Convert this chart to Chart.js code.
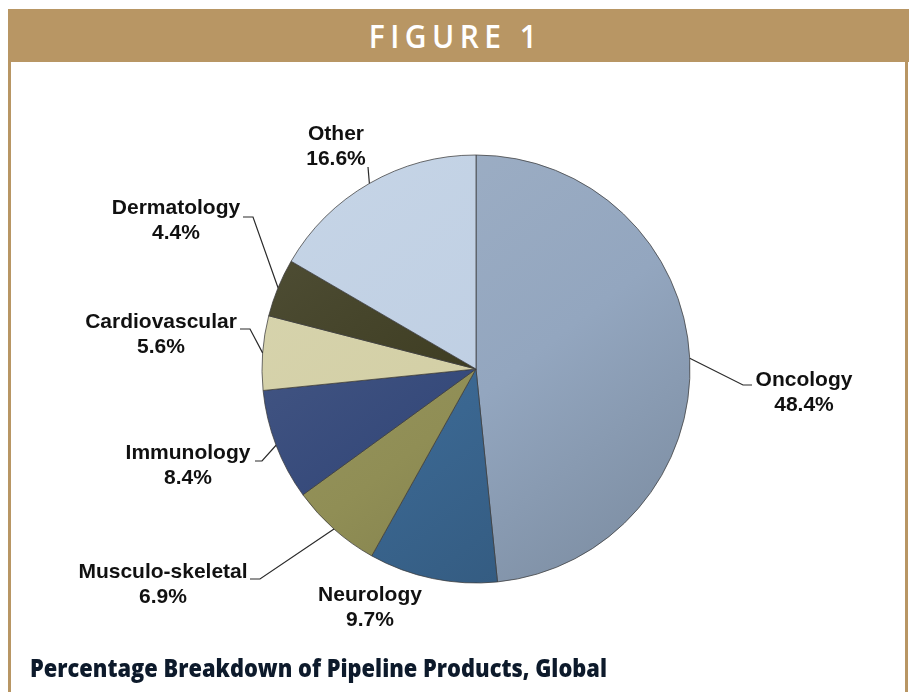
<!DOCTYPE html>
<html><head><meta charset="utf-8">
<script src="https://cdn.jsdelivr.net/npm/chart.js@4.4.0/dist/chart.umd.min.js"></script>
<style>
html,body{margin:0;padding:0;background:#fff;width:912px;height:692px;overflow:hidden;position:relative;}
#band{position:absolute;left:8px;top:9px;width:901px;height:53px;background:#B89664;}
#title{position:absolute;left:0;top:9px;width:912px;height:53px;text-align:center;}
#title span{display:inline-block;line-height:53px;color:#fff;font-family:"Open Sans",sans-serif;font-weight:600;font-size:33px;letter-spacing:6px;transform-origin:center center;}
.side{position:absolute;top:62px;width:3px;height:630px;background:#B89664;}
#caption{position:absolute;left:30px;top:652px;font-family:"Open Sans",sans-serif;font-weight:800;font-size:25px;line-height:30px;color:#0D1A2B;white-space:nowrap;transform-origin:left top;}
#c{position:absolute;left:0;top:0;}
</style></head>
<body>
<div id="band"></div>
<div id="title"><span id="titleText">FIGURE 1</span></div>
<div class="side" style="left:8px"></div>
<div class="side" style="left:905px"></div>
<canvas id="c" width="912" height="692"></canvas>
<div id="caption">Percentage Breakdown of Pipeline Products, Global</div>
<script>
// ---- data ----
const categories = ["Oncology","Neurology","Musculo-skeletal","Immunology","Cardiovascular","Dermatology","Other"];
const shares = [48.4, 9.7, 6.9, 8.4, 5.6, 4.4, 16.6];
const shareLabels = ["48.4%","9.7%","6.9%","8.4%","5.6%","4.4%","16.6%"];
const sliceColors = ["#93A6BF","#3A6690","#908E55","#35497A","#D3CFA5","#3C3B20","#BFCFE3"];

// ---- label layout (text centre x, first line centre y, elbow, horizontal end) ----
const labelLayout = [
  {tx:804, ty:380, ex:743, ey:385, hx:752},
  {tx:370, ty:595, ex:null},
  {tx:163, ty:572, ex:260, ey:579, hx:250},
  {tx:188, ty:453, ex:262, ey:461, hx:255},
  {tx:161, ty:322, ex:250, ey:329, hx:240},
  {tx:176, ty:208, ex:253, ey:217, hx:243},
  {tx:336, ty:134, ex:368, ey:167, hx:368}
];

function shade(hex, amt){
  const n = parseInt(hex.slice(1),16);
  let r=(n>>16)&255, g=(n>>8)&255, b=n&255;
  const f = c => Math.max(0,Math.min(255,Math.round(amt>=0 ? c+(255-c)*amt : c*(1+amt))));
  return `rgb(${f(r)},${f(g)},${f(b)})`;
}

function sliceFill(ctx){
  const chart = ctx.chart;
  const base = sliceColors[ctx.dataIndex];
  const ca = chart.chartArea;
  if(!ca) return base;
  const cx=(ca.left+ca.right)/2, cy=(ca.top+ca.bottom)/2, r=214;
  const g = chart.ctx.createLinearGradient(cx-r*0.7, cy-r*0.9, cx+r*0.7, cy+r*0.9);
  g.addColorStop(0, shade(base, 0.10));
  g.addColorStop(0.55, base);
  g.addColorStop(1, shade(base, -0.14));
  return g;
}

const leaderPlugin = {
  id:'leaders',
  afterDatasetsDraw(chart){
    const c = chart.ctx;
    const meta = chart.getDatasetMeta(0);
    c.save();
    meta.data.forEach((arc,i)=>{
      const p = arc.getProps(['x','y','startAngle','endAngle','outerRadius'], true);
      const mid = (p.startAngle+p.endAngle)/2;
      const ax = p.x + Math.cos(mid)*p.outerRadius;
      const ay = p.y + Math.sin(mid)*p.outerRadius;
      const L = labelLayout[i];
      if(L.ex!==null){
        c.strokeStyle='#2a2a2a'; c.lineWidth=1.2;
        c.beginPath(); c.moveTo(ax,ay); c.lineTo(L.ex,L.ey); c.lineTo(L.hx,L.ey); c.stroke();
      }
      c.fillStyle='#111';
      c.font='bold 21px "Liberation Sans", Arial, sans-serif';
      c.textAlign='center'; c.textBaseline='middle';
      c.fillText(categories[i], L.tx, L.ty);
      c.fillText(shareLabels[i], L.tx, L.ty+25);
    });
    c.restore();
  }
};

new Chart(document.getElementById('c'), {
  type:'pie',
  data:{labels:categories, datasets:[{data:shares, backgroundColor:sliceFill, borderColor:'rgba(60,60,60,0.75)', borderWidth:1, radius:214}]},
  options:{
    responsive:false, animation:false, devicePixelRatio:1,
    layout:{padding:{left:60,right:20,top:66,bottom:20}},
    plugins:{legend:{display:false}, tooltip:{enabled:false}}
  },
  plugins:[leaderPlugin]
});

// fit header/caption text widths
const t = document.getElementById('titleText');
const tw = t.getBoundingClientRect().width - 6;
t.style.transform = `scaleX(${168/tw})`;
const cap = document.getElementById('caption');
const cw = cap.getBoundingClientRect().width;
cap.style.transform = `scaleX(${577/cw})`;
</script>
</body></html>
